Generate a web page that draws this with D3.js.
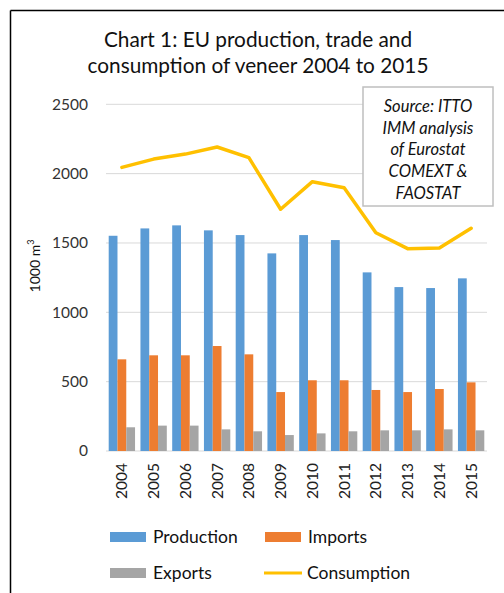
<!DOCTYPE html>
<html>
<head>
<meta charset="utf-8">
<script src="https://cdn.jsdelivr.net/npm/d3@7"></script>
<style>
  body { margin: 0; background: #fff; }
  svg { display: block; font-family: Lato, "Open Sans", sans-serif; }
</style>
</head>
<body>
<div id="chart"></div>
<script>
// values in 1000 m3
const years = ["2004","2005","2006","2007","2008","2009","2010","2011","2012","2013","2014","2015"]
const production = [1552, 1605, 1627, 1591, 1557, 1425, 1557, 1521, 1288, 1182, 1175, 1245]
const imports = [661, 690, 690, 757, 697, 425, 510, 510, 440, 425, 447, 495]
const exports = [171, 183, 183, 156, 142, 115, 127, 142, 149, 149, 156, 149]
const consumption = [2045, 2105, 2141, 2192, 2115, 1743, 1942, 1898, 1574, 1459, 1464, 1606]
const yTicks = [0, 500, 1000, 1500, 2000, 2500]
const barSeries = ["Production", "Imports", "Exports"]
const sourceLines = ["Source: ITTO", "IMM analysis", "of Eurostat", "COMEXT &", "FAOSTAT"]

window.onload = () => {
  const width = 504, height = 593
  const colors = { Production: "#5B9BD5", Imports: "#ED7D31", Exports: "#A5A5A5", Consumption: "#FFC000" }

  const svg = d3.select("#chart").append("svg")
    .attr("width", width)
    .attr("height", height)

  // frame (top and left edges only are visible)
  svg.append("line").attr("x1", 10.5).attr("x2", width).attr("y1", 10.5).attr("y2", 10.5)
    .attr("stroke", "#000").attr("stroke-width", 1.5)
  svg.append("line").attr("x1", 10.5).attr("x2", 10.5).attr("y1", 10.5).attr("y2", height)
    .attr("stroke", "#000").attr("stroke-width", 1.5)

  // title
  const title = svg.append("text")
    .attr("text-anchor", "middle")
    .attr("font-size", 20.8)
    .attr("fill", "#111")
  title.append("tspan").attr("x", 258).attr("y", 47).text("Chart 1: EU production, trade and")
  title.append("tspan").attr("x", 258).attr("y", 73).text("consumption of veneer 2004 to 2015")

  const x = d3.scaleBand()
    .domain(years)
    .range([106, 487])
    .paddingInner(0.17)
    .paddingOuter(0.085)

  const xSub = d3.scaleBand()
    .domain(barSeries)
    .range([0, x.bandwidth()])

  const y = d3.scaleLinear()
    .domain([0, 2500])
    .range([451, 104.3])

  // gridlines
  svg.append("g").selectAll("line").data(yTicks).enter().append("line")
    .attr("x1", 106).attr("x2", 487)
    .attr("y1", d => y(d)).attr("y2", d => y(d))
    .attr("stroke", "#d9d9d9").attr("stroke-width", 1)

  // y tick labels
  svg.append("g").selectAll("text").data(yTicks).enter().append("text")
    .attr("x", 88)
    .attr("y", d => y(d))
    .attr("dy", "0.35em")
    .attr("text-anchor", "end")
    .attr("font-size", 15.5)
    .attr("fill", "#333")
    .text(d => d)

  // y axis title
  const yTitle = svg.append("text")
    .attr("transform", "translate(40,266) rotate(-90)")
    .attr("text-anchor", "middle")
    .attr("font-size", 14)
    .attr("fill", "#111")
  yTitle.append("tspan").text("1000 m")
  yTitle.append("tspan").attr("font-size", 9).attr("dy", -6).text("3")

  // bars
  const rows = years.map((yr, i) => ({ year: yr, Production: production[i], Imports: imports[i], Exports: exports[i] }))
  svg.append("g").selectAll("g").data(rows).enter().append("g")
    .attr("transform", d => `translate(${x(d.year)},0)`)
    .selectAll("rect")
    .data(d => barSeries.map(k => ({ key: k, value: d[k] })))
    .enter().append("rect")
    .attr("x", d => xSub(d.key))
    .attr("width", xSub.bandwidth())
    .attr("y", d => y(d.value))
    .attr("height", d => y(0) - y(d.value))
    .attr("fill", d => colors[d.key])

  // consumption line
  const line = d3.line()
    .x((d, i) => x(years[i]) + x.bandwidth() / 2)
    .y(d => y(d))
  svg.append("path")
    .datum(consumption)
    .attr("d", line)
    .attr("fill", "none")
    .attr("stroke", colors.Consumption)
    .attr("stroke-width", 3.5)
    .attr("stroke-linejoin", "round")
    .attr("stroke-linecap", "round")

  // x tick labels, rotated
  svg.append("g").selectAll("text").data(years).enter().append("text")
    .attr("transform", d => `translate(${x(d) + x.bandwidth() / 2},463) rotate(-90)`)
    .attr("text-anchor", "end")
    .attr("dy", "0.35em")
    .attr("font-size", 15.5)
    .attr("fill", "#222")
    .text(d => d)

  // source box
  svg.append("rect")
    .attr("x", 363).attr("y", 87)
    .attr("width", 130).attr("height", 119)
    .attr("fill", "#fff")
    .attr("stroke", "#bfbfbf").attr("stroke-width", 1.5)
  svg.append("g").selectAll("text").data(sourceLines).enter().append("text")
    .attr("x", 428)
    .attr("y", (d, i) => 112 + i * 21.7)
    .attr("text-anchor", "middle")
    .attr("font-size", 16.5)
    .attr("font-style", "italic")
    .attr("fill", "#111")
    .text(d => d)

  // legend
  const legendItems = [
    { key: "Production", x: 110, y: 537, type: "rect" },
    { key: "Imports", x: 265, y: 537, type: "rect" },
    { key: "Exports", x: 110, y: 573, type: "rect" },
    { key: "Consumption", x: 264, y: 573, type: "line" }
  ]
  const legend = svg.append("g").selectAll("g").data(legendItems).enter().append("g")
    .attr("transform", d => `translate(${d.x},${d.y})`)
  legend.filter(d => d.type === "rect").append("rect")
    .attr("x", 0).attr("y", -5).attr("width", 36).attr("height", 10)
    .attr("fill", d => colors[d.key])
  legend.filter(d => d.type === "line").append("line")
    .attr("x1", 0).attr("x2", 38).attr("y1", 0).attr("y2", 0)
    .attr("stroke", d => colors[d.key]).attr("stroke-width", 3)
  legend.append("text")
    .attr("x", 43)
    .attr("y", 0)
    .attr("dy", "0.35em")
    .attr("font-size", 17.5)
    .attr("fill", "#111")
    .text(d => d.key)
}
</script>
</body>
</html>
